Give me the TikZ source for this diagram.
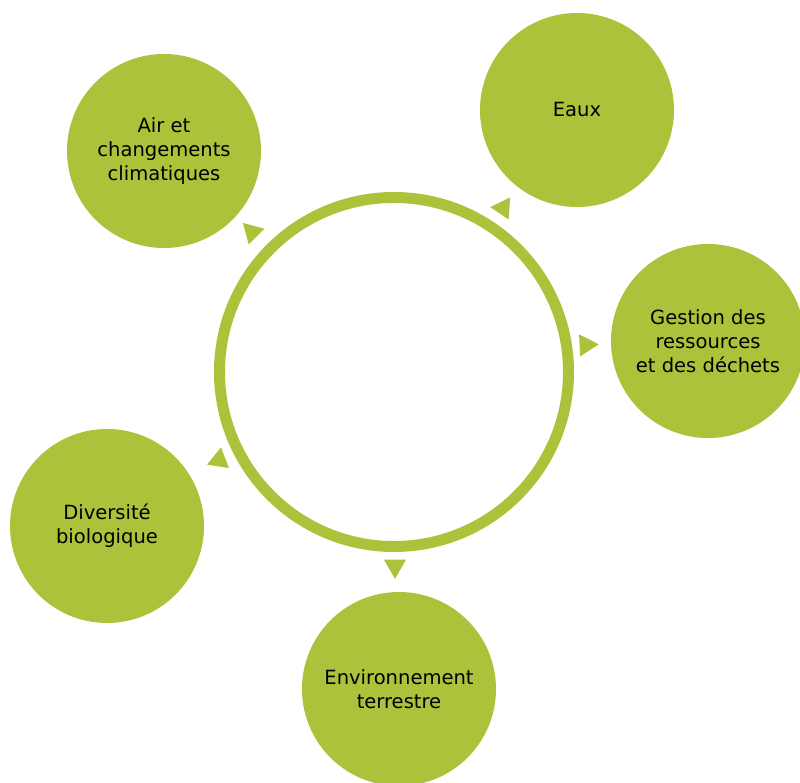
\documentclass[tikz,border=0pt]{standalone}
\usepackage{fontspec}
\setmainfont{DejaVu Sans}
\usetikzlibrary{positioning, shapes.geometric}
\definecolor{leafgreen}{RGB}{173,194,58}
\tikzset{
	topic/.style={circle, fill=leafgreen, minimum size=4.85cm, inner sep=0pt,
		align=center, font=\fontsize{13.9}{17.2}\selectfont}
}
\tikzset{
	pointer/.style={regular polygon, regular polygon sides=3, fill=leafgreen,
		minimum size=0.64cm, inner sep=0pt, outer sep=0pt}
}

\begin{document}
\begin{tikzpicture}
      \useasboundingbox (-9.85,-10.275) rectangle (10.15,9.3);
      % ring in the middle
      \node[circle, draw=leafgreen, line width=0.275cm, minimum size=8.725cm, inner sep=0pt] (hub) at (0,0) {};
      % topics
      \node[topic] (air) at (-5.75,5.525) {Air et\\changements\\climatiques};
      \node[topic] (eaux) at (4.575,6.55) {Eaux};
      \node[topic] (gestion) at (7.85,0.775) {Gestion des\\ressources\\et des déchets};
      \node[topic] (terre) at (0.125,-7.925) {Environnement\\terrestre};
      \node[topic] (bio) at (-7.175,-3.85) {Diversité\\biologique};
      % small triangles
      \node[pointer, rotate=45] (pair) at (-3.55,3.5) {};
      \node[pointer, rotate=-34] (peaux) at (2.725,4.1) {};
      \node[pointer, rotate=-87] (pgestion) at (4.8,0.675) {};
      \node[pointer, rotate=180] (pterre) at (0.025,-4.85) {};
      \node[pointer, rotate=111] (pbio) at (-4.375,-2.2) {};
    \end{tikzpicture}
\end{document}
